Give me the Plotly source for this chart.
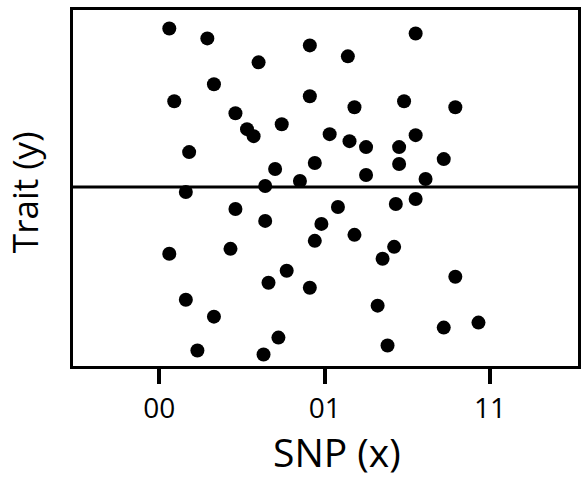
import plotly.graph_objects as go

# Genotype tick labels on the SNP axis
genotype_codes = [0, 1, 2]
genotype_labels = ["00", "01", "11"]

# Scatter of individuals: SNP coding (jittered) vs. trait value
snp_x = [0.06, 0.29, 0.91, 1.14, 0.60, 0.33, 0.09, 0.91, 1.18, 0.46,
         0.53, 0.57, 0.74, 1.03, 1.15, 0.18, 0.70, 0.94, 0.85, 0.64,
         0.16, 1.55, 1.48, 1.79, 1.25, 1.45, 1.55, 1.25, 1.45, 1.72,
         1.61, 0.46, 0.64, 1.08, 0.98, 0.94, 1.18, 0.06, 0.43, 0.77,
         0.66, 0.91, 0.16, 0.33, 0.72, 0.23, 0.63, 1.43, 1.55, 1.42,
         1.35, 1.79, 1.32, 1.72, 1.93, 1.38]
trait_y = [1.59, 1.49, 1.42, 1.31, 1.25, 1.03, 0.86, 0.91, 0.80, 0.74,
           0.58, 0.51, 0.63, 0.53, 0.46, 0.35, 0.18, 0.24, 0.06, 0.01,
           -0.05, 1.54, 0.86, 0.80, 0.40, 0.40, 0.52, 0.12, 0.23, 0.28,
           0.08, -0.22, -0.34, -0.20, -0.37, -0.54, -0.48, -0.67, -0.62, -0.84,
           -0.96, -1.01, -1.13, -1.30, -1.51, -1.64, -1.68, -0.17, -0.12, -0.60,
           -0.72, -0.90, -1.19, -1.41, -1.36, -1.59]

# Reference level drawn across the panel
trait_mean = 0.0

FONT = "Open Sans, Lato, sans-serif"

fig = go.Figure()
fig.add_trace(go.Scatter(
    x=snp_x, y=trait_y, mode="markers",
    marker=dict(color="black", size=14, line=dict(width=0)),
    showlegend=False, hoverinfo="x+y",
))

fig.add_shape(type="line", xref="paper", x0=0, x1=1, yref="y",
              y0=trait_mean, y1=trait_mean,
              line=dict(color="black", width=3))

fig.update_layout(
    width=584, height=481,
    margin=dict(l=73, r=2.5, t=9.5, b=114.5),
    paper_bgcolor="white", plot_bgcolor="white",
    font=dict(family=FONT, color="black"),
    annotations=[
        dict(text="SNP (x)", xref="paper", yref="paper", x=0.523, y=-0.24,
             xanchor="center", yanchor="middle", showarrow=False, borderpad=0,
             font=dict(size=39, family=FONT, color="black")),
        dict(text="Trait (y)", xref="paper", yref="paper", x=-0.096, y=0.487,
             xanchor="center", yanchor="middle", showarrow=False, textangle=-90,
             borderpad=0, font=dict(size=35, family=FONT, color="black")),
    ],
)

fig.update_xaxes(
    range=[-0.5225, 2.532],
    tickmode="array", tickvals=genotype_codes, ticktext=genotype_labels,
    ticks="outside", ticklen=15, tickwidth=4, tickcolor="black",
    tickfont=dict(size=28, family=FONT, color="black"),
    showline=True, linecolor="black", linewidth=3, mirror=True,
    showgrid=False, zeroline=False,
)
fig.update_yaxes(
    range=[-1.795, 1.775],
    showticklabels=False, ticks="",
    showline=True, linecolor="black", linewidth=3, mirror=True,
    showgrid=False, zeroline=False,
)

fig.write_html("out.html")
